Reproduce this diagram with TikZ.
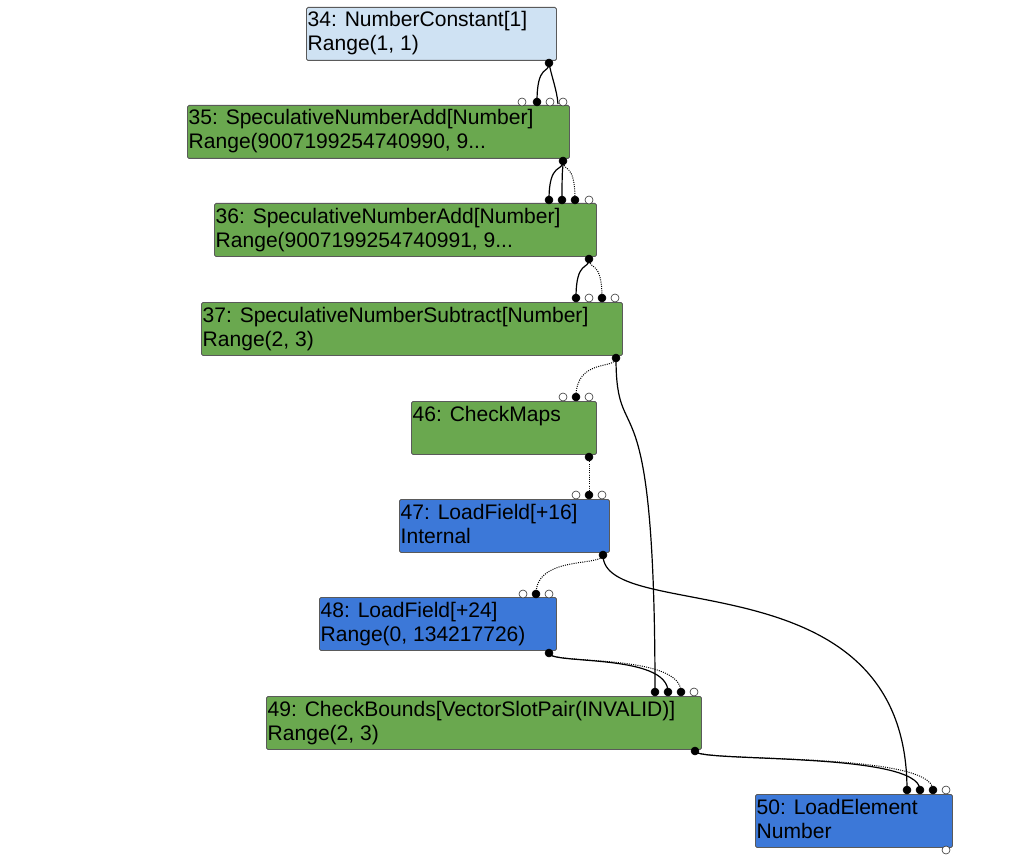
\documentclass[tikz,border=0pt]{standalone}
\usepackage{fontspec}
\setmainfont{Liberation Sans}
\usetikzlibrary{calc}
\pgfdeclarelayer{edges}
\pgfsetlayers{edges,main}
\definecolor{cgreen}{RGB}{106,168,79}
\definecolor{cblue}{RGB}{60,120,216}
\definecolor{clight}{RGB}{207,226,243}
\definecolor{cborder}{RGB}{90,90,90}
\tikzset{
  box/.style={draw=cborder, line width=0.9pt, rounded corners=1.5pt, minimum height=53pt, inner sep=0pt, anchor=north west},
  txt/.style={anchor=base west, inner sep=0pt, font=\fontsize{21.05}{24}\selectfont, text=black},
  fport/.style={circle, fill=black, draw=black, line width=0.5pt, minimum size=8pt, inner sep=0pt},
  oport/.style={circle, fill=white, draw=black!80, line width=0.6pt, minimum size=8pt, inner sep=0pt},
  solidedge/.style={draw=black, line width=1.2pt},
  dotedge/.style={draw=black, line width=1.0pt, dash pattern=on 1pt off 1.2pt},
}
\newcommand{\gnode}[7]{%
  \node[box, fill=#5, minimum width=#4pt] (#1) at (#2,-#3) {};
  \node[txt] (#1a) at ($(#1.north west)+(1.5,-20)$) {#6};
  \node[txt] (#1b) at ($(#1.north west)+(1.5,-44)$) {#7};
}
\newcommand{\edgeto}[3]{%
  \draw[#1] (#2.center) .. controls ($(#2.center)!0.3!(#2.center|-#3.center)$) and (#3.center|-#2.center) .. (#3.center);
}
\begin{document}
\begin{tikzpicture}[x=1pt,y=1pt]
\useasboundingbox (0,0) rectangle (1022,-861);
% nodes
\gnode{n34}{306}{7}{250}{clight}{34: NumberConstant[1]}{Range(1, 1)}
\gnode{n35}{187}{105}{382}{cgreen}{35: SpeculativeNumberAdd[Number]}{Range(9007199254740990, 9...}
\gnode{n36}{214}{203}{382}{cgreen}{36: SpeculativeNumberAdd[Number]}{Range(9007199254740991, 9...}
\gnode{n37}{201}{302}{421}{cgreen}{37: SpeculativeNumberSubtract[Number]}{Range(2, 3)}
\gnode{n46}{411}{401}{185}{cgreen}{46: CheckMaps}{}
\gnode{n47}{399}{499}{210}{cblue}{47: LoadField[+16]}{Internal}
\gnode{n48}{319}{597}{237}{cblue}{48: LoadField[+24]}{Range(0, 134217726)}
\gnode{n49}{266}{696}{435}{cgreen}{49: CheckBounds[VectorSlotPair(INVALID)]}{Range(2, 3)}
\gnode{n50}{755}{794}{197}{cblue}{50: LoadElement}{Number}
% ports
\node[fport] (o34) at (549,-63) {};
\node[oport] (i35a) at (522,-102) {};
\node[fport] (i35b) at (537,-102) {};
\node[oport] (i35c) at (550,-102) {};
\node[oport] (i35d) at (563,-102) {};
\coordinate (x35) at (558,-104);
\node[fport] (o35) at (563,-161) {};
\node[fport] (i36a) at (549,-200) {};
\node[fport] (i36b) at (562,-200) {};
\node[fport] (i36c) at (575,-200) {};
\node[oport] (i36d) at (589,-200) {};
\node[fport] (o36) at (589,-259) {};
\node[fport] (i37a) at (576,-298) {};
\node[oport] (i37b) at (589,-298) {};
\node[fport] (i37c) at (602,-298) {};
\node[oport] (i37d) at (615,-298) {};
\node[fport] (o37) at (616,-358) {};
\node[oport] (i46a) at (563,-397) {};
\node[fport] (i46b) at (576,-397) {};
\node[oport] (i46c) at (589,-397) {};
\node[fport] (o46) at (589,-457) {};
\node[oport] (i47a) at (576,-495) {};
\node[fport] (i47b) at (589,-495) {};
\node[oport] (i47c) at (602,-495) {};
\node[fport] (o47) at (603,-555) {};
\node[oport] (i48a) at (523,-594) {};
\node[fport] (i48b) at (536,-594) {};
\node[oport] (i48c) at (549,-594) {};
\node[fport] (o48) at (549,-653) {};
\node[fport] (i49a) at (655,-692) {};
\node[fport] (i49b) at (668,-692) {};
\node[fport] (i49c) at (681,-692) {};
\node[oport] (i49d) at (694,-692) {};
\node[fport] (o49) at (695,-751) {};
\node[fport] (i50a) at (907,-790) {};
\node[fport] (i50b) at (920,-790) {};
\node[fport] (i50c) at (933,-790) {};
\node[oport] (i50d) at (946,-790) {};
\node[oport] (o50) at (946,-850) {};
% edges
\begin{pgfonlayer}{edges}
\edgeto{solidedge}{o34}{i35b}
\draw[solidedge] (o34.center) .. controls (551,-75) and (557,-90) .. (x35);
\edgeto{solidedge}{o35}{i36a}
\edgeto{solidedge}{o35}{i36b}
\edgeto{dotedge}{o35}{i36c}
\edgeto{solidedge}{o36}{i37a}
\edgeto{dotedge}{o36}{i37c}
\edgeto{dotedge}{o37}{i46b}
\edgeto{solidedge}{o37}{i49a}
\edgeto{dotedge}{o46}{i47b}
\edgeto{dotedge}{o47}{i48b}
\edgeto{solidedge}{o47}{i50a}
\edgeto{solidedge}{o48}{i49b}
\edgeto{dotedge}{o48}{i49c}
\edgeto{solidedge}{o49}{i50b}
\edgeto{dotedge}{o49}{i50c}
\end{pgfonlayer}
\end{tikzpicture}
\end{document}
